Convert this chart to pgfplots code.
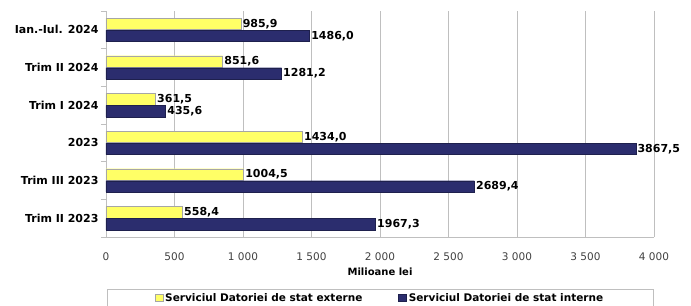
\documentclass[border=0pt]{standalone}
\usepackage{pgfplots}
\pgfplotsset{compat=1.18}
\usetikzlibrary{calc}
\usepackage{fontspec}
\setmainfont{DejaVu Sans}
\definecolor{ybar}{HTML}{FFFF66}
\definecolor{nbar}{HTML}{2B2D6E}
\definecolor{gridc}{HTML}{BFBFBF}
\definecolor{tickc}{HTML}{404040}
\begin{document}
\begin{tikzpicture}
\begin{axis}[
  scale only axis, width=548pt, height=226pt,
  xbar, bar width=11.5pt,
  xmin=0, xmax=4000, ymin=-0.5, ymax=5.5,
  xtick={0,500,...,4000},
  ytick={0,...,5},
  yticklabels={Trim II 2023, Trim III 2023, 2023, Trim I 2024, Trim II 2024, Ian.-Iul. 2024},
  minor ytick={-0.5,0.5,...,5.5},
  xmajorgrids, grid style={gridc, line width=0.8pt},
  axis lines*=left, axis line style={gridc, line width=0.8pt},
  major tick length=0pt, minor tick length=5pt, tick align=outside,
  minor tick style={gridc, line width=0.8pt},
  /pgf/number format/assume math mode=true,
  /pgf/number format/1000 sep={\ },
  x tick label style={font=\fontsize{10.5}{12}\selectfont, text=tickc, yshift=-6pt},
  xticklabel shift=6pt,
  y tick label style={font=\bfseries\fontsize{11}{12}\selectfont, xshift=-4pt},
  xlabel={Milioane lei},
  xlabel style={font=\bfseries\fontsize{10}{12}\selectfont, yshift=-1pt},
  nodes near coords={\pgfmathprintnumber[fixed,fixed zerofill,precision=1,use comma,1000 sep={}]{\pgfplotspointmeta}},
  nodes near coords style={font=\bfseries\fontsize{11}{12}\selectfont, anchor=west, inner xsep=1.5pt, text=black},
  legend style={at={(0.5,0)}, anchor=north, yshift=-52pt, legend columns=2, draw=gridc,
    font=\bfseries\fontsize{10.5}{12}\selectfont, inner xsep=48pt, inner ysep=2pt},
  /tikz/every even column/.append style={column sep=34pt},
  legend image code/.code={\draw[#1] (0pt,-3.5pt) rectangle (8pt,3.5pt);},
]
\addplot[fill=ybar, draw=gray!70, bar shift=6pt] coordinates {
  (558.4,0) (1004.5,1) (1434.0,2) (361.5,3) (851.6,4) (985.9,5)};
\addlegendentry{Serviciul Datoriei de stat externe}
\addplot[fill=nbar, draw=nbar!70!black, bar shift=-6pt] coordinates {
  (1967.3,0) (2689.4,1) (3867.5,2) (435.6,3) (1281.2,4) (1486.0,5)};
\addlegendentry{Serviciul Datoriei de stat interne}
\end{axis}
\pgfresetboundingbox
\path[use as bounding box] ($(current axis.south west)+(-106pt,-69pt)$) rectangle ($(current axis.north east)+(37pt,11pt)$);
\end{tikzpicture}
\end{document}
